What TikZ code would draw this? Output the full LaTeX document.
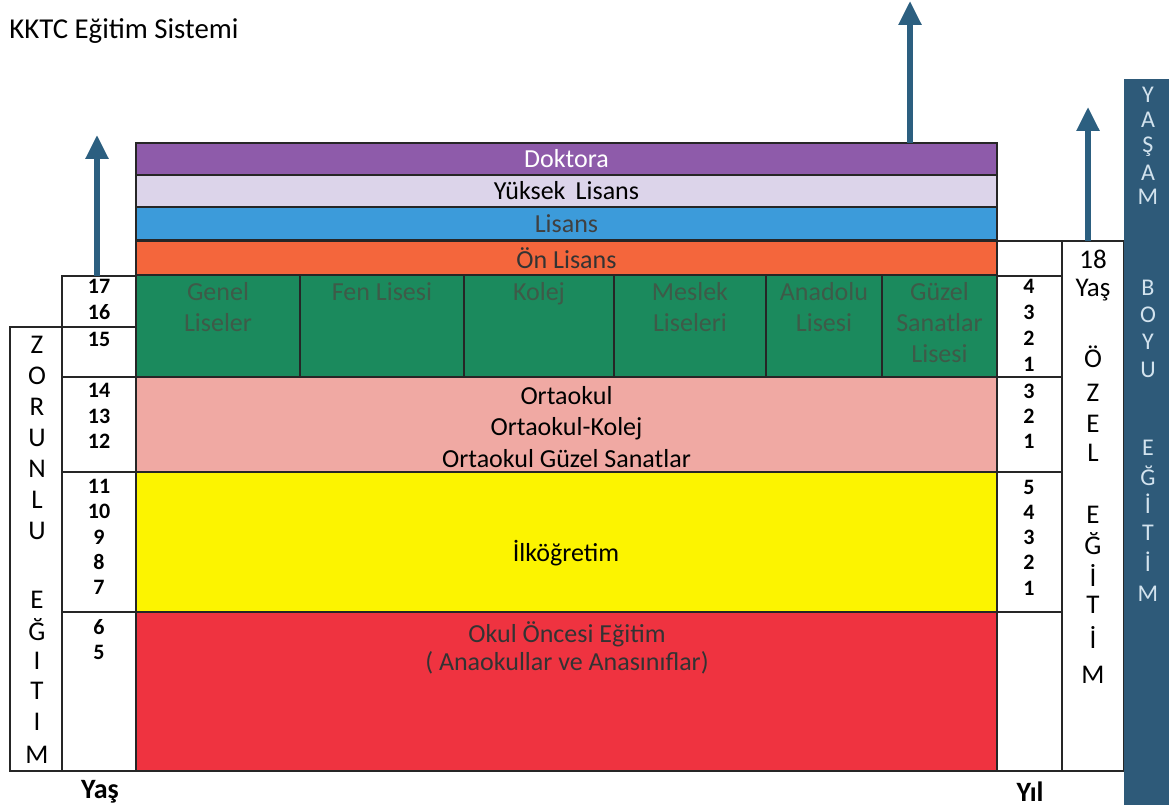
\documentclass[tikz,border=0pt]{standalone}
\usepackage{fontspec}
\setmainfont{Carlito}
\usetikzlibrary{arrows.meta}
\definecolor{cDok}{HTML}{8E5BAA}
\definecolor{cYL}{HTML}{DCD4EA}
\definecolor{cLis}{HTML}{3C9BDA}
\definecolor{cOn}{HTML}{F4663C}
\definecolor{cGreen}{HTML}{1B8A5D}
\definecolor{cGreenTxt}{HTML}{3E5A48}
\definecolor{cPink}{HTML}{F0A9A3}
\definecolor{cYellow}{HTML}{FCF400}
\definecolor{cRed}{HTML}{EF3340}
\definecolor{cArrow}{HTML}{2C5F80}
\definecolor{cBar}{HTML}{2E5A79}
\definecolor{cBarTxt}{HTML}{D3E3EE}
\begin{document}
\begin{tikzpicture}[x=0.5pt,y=-0.5pt,
  box/.style={draw=black!85, line width=0.6pt, inner sep=0pt, outer sep=0pt},
  band/.style={box, minimum width=430.5pt},
  gcell/.style={box, fill=cGreen, minimum height=51pt},
  gtxt/.style={anchor=north, align=center, inner sep=0pt, text=cGreenTxt, font=\fontsize{13}{15.5}\selectfont},
  btxt/.style={inner sep=0pt, font=\fontsize{13}{15}\selectfont},
  num/.style={inner sep=0pt, align=center, font=\bfseries\fontsize{11}{12.6}\selectfont},
  letter/.style={inner sep=0pt, font=\fontsize{13.5}{15}\selectfont},
  barletter/.style={inner sep=0pt, text=cBarTxt, font=\fontsize{12}{14}\selectfont},
  arr/.style={draw=cArrow, line width=2.8pt, -{Triangle[width=11pt,length=12pt]}}
]
\useasboundingbox (0,0) rectangle (1169,807);

% title
\node[anchor=west, inner sep=0pt, font=\fontsize{14.4}{17}\selectfont] (title) at (9,31) {KKTC Eğitim Sistemi};

% higher education bands
\node[band, fill=cDok, minimum height=16pt, text=white, font=\fontsize{13}{15}\selectfont] (dok) at (566.5,159) {Doktora};
\node[band, fill=cYL, minimum height=16pt, font=\fontsize{13}{15}\selectfont] (yl) at (566.5,191) {Yüksek\, Lisans};
\node[band, fill=cLis, minimum height=16.5pt, text=black!75, font=\fontsize{13}{15}\selectfont] (lis) at (566.5,223.5) {Lisans};
\node[band, fill=cOn, minimum height=16.5pt, text=black!80, font=\fontsize{13}{15}\selectfont] (on) at (566.5,258) {Ön Lisans};

% high school cells
\node[gcell, minimum width=82pt] (g1) at (218,326) {};
\node[gcell, minimum width=82pt] (g2) at (382,326) {};
\node[gcell, minimum width=75pt] (g3) at (539,326) {};
\node[gcell, minimum width=76pt] (g4) at (690,326) {};
\node[gcell, minimum width=58pt] (g5) at (824,326) {};
\node[gcell, minimum width=57.5pt] (g6) at (939.5,326) {};
\node[gtxt] (t1) at (218,282) {Genel\\Liseler};
\node[gtxt] (t2) at (382,282) {Fen Lisesi};
\node[gtxt] (t3) at (539,282) {Kolej};
\node[gtxt] (t4) at (690,282) {Meslek\\Liseleri};
\node[gtxt] (t5) at (824,282) {Anadolu\\Lisesi};
\node[gtxt] (t6) at (939.5,282) {Güzel\\Sanatlar\\Lisesi};

% lower bands
\node[band, fill=cPink, minimum height=47.5pt] (ort) at (566.5,424.5) {};
\node[align=center, inner sep=0pt, font=\fontsize{13}{15.75}\selectfont] (ortT) at (566.5,427) {Ortaokul\\Ortaokul-Kolej\\Ortaokul Güzel Sanatlar};
\node[band, fill=cYellow, minimum height=70pt] (ilk) at (566.5,542) {};
\node[btxt] (ilkT) at (566,553) {İlköğretim};
\node[band, fill=cRed, minimum height=79.5pt] (okul) at (566.5,691.5) {};
\node[align=center, inner sep=0pt, text=black!80, font=\fontsize{13}{14}\selectfont] (okulT) at (567,648) {Okul Öncesi Eğitim\\( Anaokullar ve Anasınıflar)};

% age column (left)
\node[box, minimum width=37pt, minimum height=25.5pt] (a1) at (99,301.5) {};
\node[box, minimum width=37pt, minimum height=25pt] (a2) at (99,352) {};
\node[box, minimum width=37pt, minimum height=47.5pt] (a3) at (99,424.5) {};
\node[box, minimum width=37pt, minimum height=70pt] (a4) at (99,542) {};
\node[box, minimum width=37pt, minimum height=79.5pt] (a5) at (99,691.5) {};
\node[num] (n1) at (99,299.5) {17\\16};
\node[num] (n2) at (99,339) {15};
\node[num] (n3) at (99,416) {14\\13\\12};
\node[num] (n4) at (99,537) {11\\10\\9\\8\\7};
\node[num] (n5) at (99,639.5) {6\\5};

% zorunlu egitim column
\node[box, minimum width=26pt, minimum height=222pt] (zor) at (36,549) {};
\foreach \l/\y [count=\i] in {Z/345,O/376,R/407,U/438,N/469,L/500,U/531,E/600,Ğ/630,I/661,T/691,I/722,M/755}
  \node[letter] (z\i) at (37,\y) {\l};

% Yil column (right)
\node[box, minimum width=32.5pt, minimum height=17.5pt] (y0) at (1029.5,258.5) {};
\node[box, minimum width=32.5pt, minimum height=50.5pt] (y1) at (1029.5,326.5) {};
\node[box, minimum width=32.5pt, minimum height=47.5pt] (y2) at (1029.5,424.5) {};
\node[box, minimum width=32.5pt, minimum height=70pt] (y3) at (1029.5,542) {};
\node[box, minimum width=32.5pt, minimum height=79.5pt] (y4) at (1029.5,691.5) {};
\node[num, font=\bfseries\fontsize{11}{12.9}\selectfont] (m1) at (1029,325.5) {4\\3\\2\\1};
\node[num] (m2) at (1029,416.5) {3\\2\\1};
\node[num] (m3) at (1029,537.5) {5\\4\\3\\2\\1};

% ozel egitim column
\node[box, minimum width=31pt, minimum height=265pt] (ozel) at (1093,506) {};
\node[letter] (o18) at (1093,259) {18};
\node[letter] (oyas) at (1093,290) {Yaş};
\foreach \l/\y [count=\i] in {Ö/357,Z/393,E/424,L/453,E/515,Ğ/544,İ/575,T/605,İ/637,M/675}
  \node[letter] (oz\i) at (1093,\y) {\l};

% lifelong bar
\node[inner sep=0pt, outer sep=0pt, fill=cBar, minimum width=22.5pt, minimum height=363pt] (bar) at (1146.5,442) {};
\foreach \l/\y [count=\i] in {Y/95,A/120,Ş/147,A/173,M/197,B/288,O/315,Y/342,U/370,E/448,Ğ/476,İ/504,T/533,İ/562,M/594}
  \node[barletter] (b\i) at (1148,\y) {\l};

% bottom labels
\node[inner sep=0pt, font=\bfseries\fontsize{14}{16}\selectfont] (yasL) at (100,792) {Yaş};
\node[inner sep=0pt, font=\bfseries\fontsize{14}{16}\selectfont] (yilL) at (1030,792) {Yıl};

% arrows
\coordinate (tipL) at (97,135);
\coordinate (tipM) at (910,1);
\coordinate (tipR) at (1088,107);
\draw[arr] (a1.north -| tipL) -- (tipL);
\draw[arr] (dok.north -| tipM) -- (tipM);
\draw[arr] (ozel.north -| tipR) -- (tipR);
\end{tikzpicture}
\end{document}
